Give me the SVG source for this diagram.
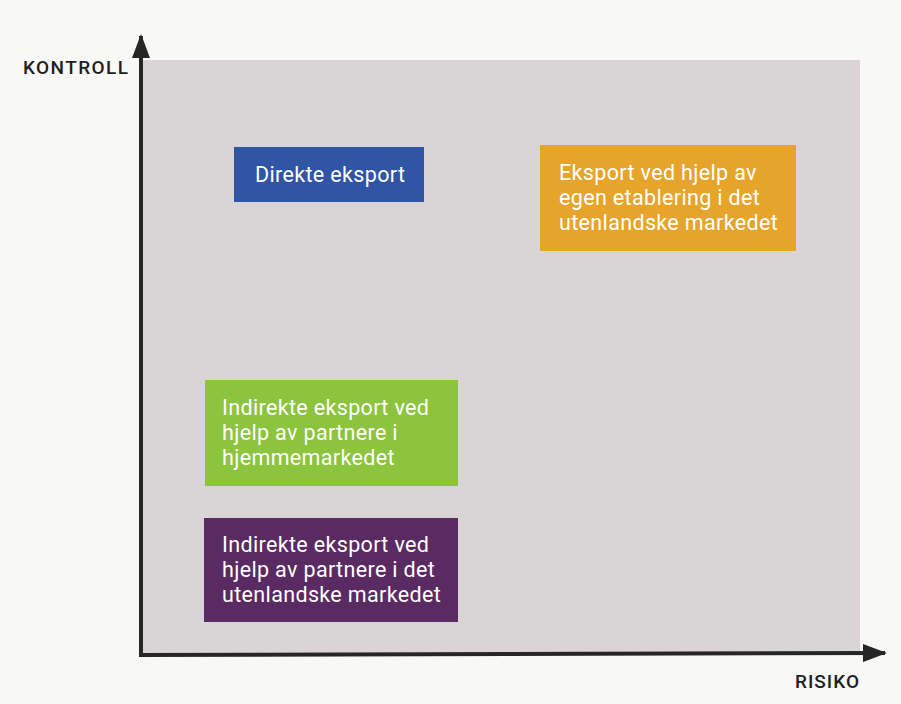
<svg xmlns="http://www.w3.org/2000/svg" width="901" height="704" viewBox="0 0 901 704">
  <style>
    .axis { stroke: #262626; stroke-width: 4; fill: none; }
    .axis-label { font-family: Roboto, "Liberation Sans", sans-serif; font-size: 19px; font-weight: 500; fill: #1e1e1e; }
    .box-text { font-family: Roboto, "Liberation Sans", sans-serif; font-size: 21.5px; letter-spacing: 0.35px; fill: #ffffff; }
  </style>
  <defs>
    <marker id="arrow" viewBox="0 0 24 18" refX="22" refY="9" markerUnits="userSpaceOnUse" markerWidth="24" markerHeight="18" orient="auto">
      <path d="M0,0 L24,9 L0,18 Z" fill="#262626"/>
    </marker>
  </defs>

  <!-- page background -->
  <rect x="0" y="0" width="901" height="704" fill="#f8f8f6"/>
  <!-- chart panel -->
  <rect x="141" y="60" width="719" height="595" fill="#d9d4d5"/>

  <!-- axes -->
  <g id="connectors">
    <line class="axis" x1="141" y1="657" x2="141" y2="36" marker-end="url(#arrow)"/>
    <line class="axis" x1="139" y1="655" x2="885" y2="653" marker-end="url(#arrow)"/>
  </g>

  <g id="label-kontroll">
    <text class="axis-label" x="23" y="74" textLength="105" lengthAdjust="spacing">KONTROLL</text>
  </g>
  <g id="label-risiko">
    <text class="axis-label" x="795" y="688" textLength="64" lengthAdjust="spacing">RISIKO</text>
  </g>

  <g id="direkte-eksport">
    <rect x="234" y="147" width="190" height="55" fill="#2f55a4"/>
    <text class="box-text" x="255" y="182">Direkte eksport</text>
  </g>

  <g id="egen-etablering">
    <rect x="540" y="145" width="256" height="106" fill="#e6a42a"/>
    <text class="box-text" x="559" y="180">Eksport ved hjelp av</text>
    <text class="box-text" x="559" y="205">egen etablering i det</text>
    <text class="box-text" x="559" y="230">utenlandske markedet</text>
  </g>

  <g id="partnere-hjemmemarkedet">
    <rect x="205" y="380" width="253" height="106" fill="#8cc43d"/>
    <text class="box-text" x="222" y="415">Indirekte eksport ved</text>
    <text class="box-text" x="222" y="440">hjelp av partnere i</text>
    <text class="box-text" x="222" y="465">hjemmemarkedet</text>
  </g>

  <g id="partnere-utenlandske">
    <rect x="204" y="518" width="254" height="104" fill="#5a2a62"/>
    <text class="box-text" x="222" y="552">Indirekte eksport ved</text>
    <text class="box-text" x="222" y="577">hjelp av partnere i det</text>
    <text class="box-text" x="222" y="602">utenlandske markedet</text>
  </g>
</svg>
